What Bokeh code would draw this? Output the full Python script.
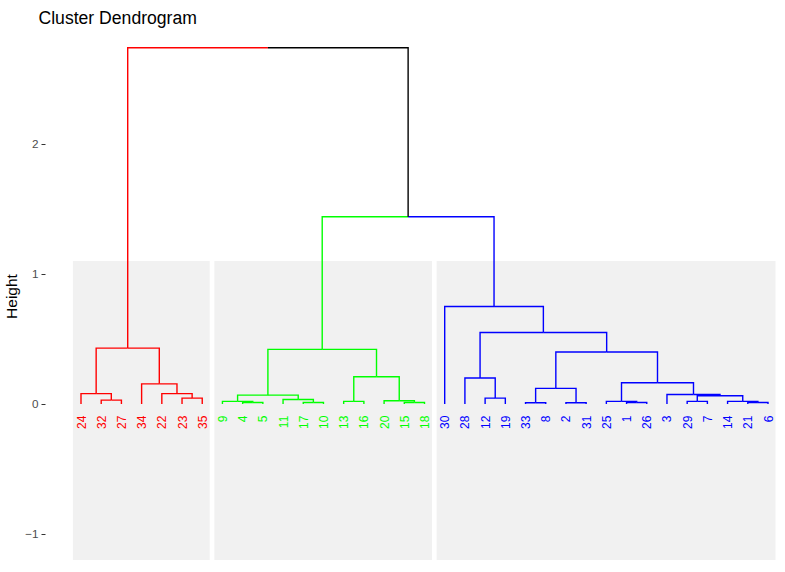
import math
from bokeh.plotting import figure
from bokeh.models import FixedTicker, ColumnDataSource
from bokeh.core.properties import value
from bokeh.embed import file_html
from bokeh.resources import INLINE

# ---------------- data ----------------
title_text = "Cluster Dendrogram"
y_label = "Height"
leaf_order = ["24", "32", "27", "34", "22", "23", "35",
              "9", "4", "5", "11", "17", "10", "13", "16", "20", "15", "18",
              "30", "28", "12", "19", "33", "8", "2", "31", "25", "1", "26",
              "3", "29", "7", "14", "21", "6"]
cluster_sizes = [7, 11, 17]
cluster_colors = ["#FF0000", "#00FF00", "#0000FF"]
# hclust-style merges: negative = leaf label, positive = earlier merge step (1-based)
merge_a = [-32, -24, -23, -22, -34, 2,
           -4, -9, -17, -11, 8, -13, -15, -20, 12, 11,
           -12, -28, -33, -2, 19, -1, -25, -29, -21, -14, 24, -3, 23, 21, 18, -30,
           16, 6]
merge_b = [-27, 1, -35, 3, 4, 5,
           -5, 7, -10, 9, 10, -16, -18, 13, 14, 15,
           -19, 17, -8, -31, 20, -26, 22, -7, -6, 25, 26, 27, 28, 29, 30, 31,
           32, 33]
merge_h = [0.03, 0.08, 0.045, 0.08, 0.155, 0.43,
           0.012, 0.02, 0.012, 0.035, 0.068, 0.02, 0.012, 0.025, 0.21, 0.42,
           0.045, 0.20, 0.01, 0.01, 0.12, 0.012, 0.02, 0.02, 0.012, 0.02, 0.063,
           0.073, 0.163, 0.40, 0.55, 0.75,
           1.44, 2.74]
y_ticks = [-1, 0, 1, 2]
rect_top = 1.1

FONT = "Liberation Sans"

# ---------------- layout computation ----------------
pos = {int(lbl): i + 1 for i, lbl in enumerate(leaf_order)}
pos_cluster = []
for ci, n in enumerate(cluster_sizes):
    pos_cluster += [ci] * n


def node(ref, nodes):
    if ref < 0:
        p_ = pos[-ref]
        return p_, 0.0, {pos_cluster[p_ - 1]}
    return nodes[ref - 1]


nodes = []
for a, b, h in zip(merge_a, merge_b, merge_h):
    xa, ha, ca = node(a, nodes)
    xb, hb, cb = node(b, nodes)
    nodes.append(((xa + xb) / 2.0, h, ca | cb))

seg_xs, seg_ys, seg_col = [], [], []
for a, b, (nx, nh, _) in zip(merge_a, merge_b, nodes):
    for c in (a, b):
        cx, ch, cc = node(c, nodes)
        col = cluster_colors[next(iter(cc))] if len(cc) == 1 else "#000000"
        seg_xs.append([nx, cx, cx])
        seg_ys.append([nh, nh, ch])
        seg_col.append(col)

rect_l, rect_r = [], []
start = 1
for n in cluster_sizes:
    rect_l.append(start - 0.4)
    rect_r.append(start + n - 1 + 0.37)
    start += n

# ---------------- figure ----------------
FW, FH = 732, 528
frame_left_px, frame_top_px = 44.5, 33.0
first_px, last_px = 80.0, 767.0
sx = (last_px - first_px) / 34.0
x_start = 1 - (first_px - frame_left_px) / sx
x_end = x_start + FW / sx
y_top = (404.5 - frame_top_px) / 130.0
y_bot = (404.5 - (frame_top_px + FH)) / 130.0

p = figure(frame_width=FW, frame_height=FH, output_backend="svg", toolbar_location=None,
           x_range=(x_start, x_end), y_range=(y_bot, y_top),
           x_axis_location=None, title=title_text,
           min_border_left=0, min_border_right=0,
           min_border_top=0, min_border_bottom=0)
p.outline_line_color = None
p.grid.visible = False
p.background_fill_color = "white"
p.border_fill_color = "white"

p.title.text_font = FONT
p.title.text_font_size = "17.6px"
p.title.text_font_style = "normal"
p.title.text_color = "#000000"
p.title.align = "left"
p.title.offset = -7

ax = p.yaxis[0]
ax.ticker = FixedTicker(ticks=y_ticks)
ax.axis_line_color = None
ax.major_tick_in = 0
ax.major_tick_out = 4
ax.major_tick_line_color = "#333333"
ax.minor_tick_line_color = None
ax.major_label_text_font = FONT
ax.major_label_text_font_size = "11.7px"
ax.major_label_text_color = "#4d4d4d"
ax.major_label_standoff = 3
ax.axis_label = y_label
ax.axis_label_text_font = FONT
ax.axis_label_text_font_size = "15.5px"
ax.axis_label_text_font_style = "normal"
ax.axis_label_text_color = "#000000"
ax.axis_label_standoff = 2

p.quad(left=rect_l, right=rect_r, bottom=[-5] * len(rect_l), top=[rect_top] * len(rect_l),
       fill_color="#f1f1f1", line_color=None)

seg_src = ColumnDataSource(dict(xs=seg_xs, ys=seg_ys, color=seg_col))
p.multi_line(xs="xs", ys="ys", line_color="color", line_width=1.4, source=seg_src,
             line_join="miter", line_cap="butt")

lab_src = ColumnDataSource(dict(
    x=list(range(1, len(leaf_order) + 1)),
    y=[-0.09] * len(leaf_order),
    text=leaf_order,
    color=[cluster_colors[c] for c in pos_cluster]))
p.text(x="x", y="y", text="text", text_color="color", source=lab_src,
       angle=math.pi / 2, text_align="right", text_baseline="middle",
       text_font=value(FONT), text_font_size="12px")

open("out.html", "w").write(file_html(p, INLINE))
